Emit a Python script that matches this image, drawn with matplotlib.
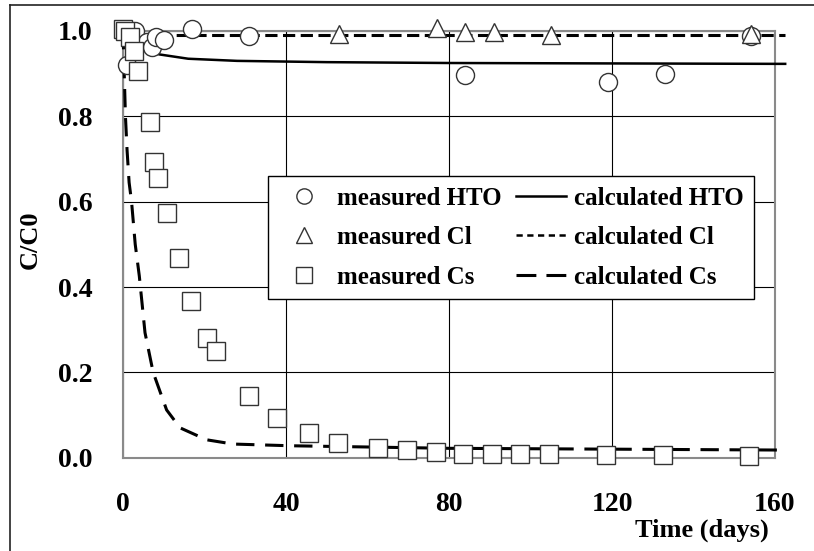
import numpy as np
import matplotlib
matplotlib.use("Agg")
import matplotlib.pyplot as plt
from matplotlib.lines import Line2D

plt.rcParams['font.family'] = ['Liberation Serif', 'DejaVu Serif']
plt.rcParams['font.weight'] = 'bold'

# measured breakthrough data (days, C/C0)
hto_t = [1, 3, 6, 7, 8, 10, 17, 31, 84, 119, 133, 154]
hto_c = [0.92, 1.0, 0.975, 0.962, 0.985, 0.98, 1.005, 0.988, 0.898, 0.88, 0.9, 0.988]

cl_t = [53, 77, 84, 91, 105, 154]
cl_c = [0.994, 1.006, 0.997, 0.997, 0.99, 0.994]

cs_t = [0.0, 0.5, 1.7, 2.7, 3.7, 6.6, 7.7, 8.7, 10.7, 13.7, 16.7, 20.7, 22.7,
        30.8, 37.7, 45.7, 52.8, 62.6, 69.8, 76.8, 83.5, 90.5, 97.4, 104.5,
        118.5, 132.6, 153.6]
cs_c = [1.005, 1.0, 0.987, 0.952, 0.907, 0.787, 0.693, 0.656, 0.573, 0.467,
        0.367, 0.281, 0.249, 0.144, 0.093, 0.057, 0.034, 0.022, 0.018, 0.013,
        0.009, 0.009, 0.009, 0.009, 0.006, 0.006, 0.003]

# model curves
hto_calc_t = [0, 1, 3, 5, 9, 16, 28, 50, 80, 160, 162.5]
hto_calc_c = [1.0, 0.985, 0.965, 0.955, 0.945, 0.935, 0.93, 0.927, 0.925, 0.923, 0.923]

cl_calc_t = [0, 162.5]
cl_calc_c = [0.991, 0.991]

cs_calc_t = [0, 0.3, 0.6, 1.0, 1.5, 2.1, 3.0, 4.0, 5.4, 7.4, 10.7, 14, 20.5,
             27, 41, 80, 160, 162.5]
cs_calc_c = [1.0, 0.9, 0.8, 0.72, 0.645, 0.6, 0.5, 0.426, 0.293, 0.2, 0.112,
             0.07, 0.042, 0.032, 0.028, 0.022, 0.018, 0.018]

fig = plt.figure(figsize=(8.14, 5.51), dpi=100)
ax = fig.add_axes([123/814, 1 - 457.7/551, 652/814, 426.7/551])

ax.set_xlim(0, 160)
ax.set_ylim(0, 1.0)
ax.set_xticks([0, 40, 80, 120, 160])
ax.set_yticks([0.0, 0.2, 0.4, 0.6, 0.8, 1.0])
ax.set_yticklabels(['0.0', '0.2', '0.4', '0.6', '0.8', '1.0'])
ax.tick_params(length=0, labelsize=20)
ax.tick_params(axis='x', pad=25)
ax.tick_params(axis='y', pad=22)
for lab in ax.get_xticklabels() + ax.get_yticklabels():
    lab.set_fontweight('bold')
ax.grid(True, color='k', lw=0.8)
ax.set_axisbelow(True)
for sp in ax.spines.values():
    sp.set_color('#8a8a8a')
    sp.set_linewidth(1.5)

# calculated curves
ax.plot(hto_calc_t, hto_calc_c, color='k', lw=1.8, clip_on=False, zorder=3)
l_cl, = ax.plot(cl_calc_t, cl_calc_c, color='k', lw=2.2, clip_on=False, zorder=3)
l_cl.set_dashes((4.0, 1.8))
l_cs, = ax.plot(cs_calc_t, cs_calc_c, color='k', lw=2.2, clip_on=False, zorder=3)
l_cs.set_dashes((6.0, 3.5))

mk = dict(ls='none', ms=13, mfc='white', mec='#333333', mew=1.0,
          clip_on=False, zorder=4)
ax.plot(hto_t, hto_c, marker='o', **mk)
ax.plot(cl_t, cl_c, marker='^', **mk)
ax.plot(cs_t, cs_c, marker='s', **mk)

handles = [
    Line2D([], [], ls='none', marker='o', ms=11, mfc='white', mec='#333333', mew=1.0),
    Line2D([], [], ls='none', marker='^', ms=11, mfc='white', mec='#333333', mew=1.0),
    Line2D([], [], ls='none', marker='s', ms=11, mfc='white', mec='#333333', mew=1.0),
    Line2D([], [], color='k', lw=1.8),
    Line2D([], [], color='k', lw=1.8, dashes=(2.5, 1.8)),
    Line2D([], [], color='k', lw=2.2, dashes=(6.5, 3.3)),
]
labels = ['measured HTO', 'measured Cl', 'measured Cs',
          'calculated HTO', 'calculated Cl', 'calculated Cs']
leg = ax.legend(handles, labels, ncol=2, loc='upper left',
                bbox_to_anchor=(0.2224, 0.660), borderaxespad=0,
                prop={'size': 18, 'weight': 'bold'}, handlelength=2.0,
                handletextpad=0.32, columnspacing=0.6, borderpad=0.42,
                labelspacing=0.66, fancybox=False, framealpha=1)
leg.get_frame().set_edgecolor('k')
leg.get_frame().set_linewidth(1.0)
leg.set_zorder(5)

fig.text(30/814, 1 - 240/551, 'C/C0', rotation=90, ha='center', va='center',
         fontsize=19, fontweight='bold')
fig.text(702/814, 1 - 530/551, 'Time (days)', ha='center', va='center',
         fontsize=19, fontweight='bold')

# frame lines on the top and left of the figure
fig.add_artist(Line2D([10/814, 1], [1 - 5/551, 1 - 5/551], color='#222222', lw=1.2))
fig.add_artist(Line2D([10/814, 10/814], [0, 1 - 5/551], color='#222222', lw=1.2))

fig.savefig('out.png', dpi=100)
